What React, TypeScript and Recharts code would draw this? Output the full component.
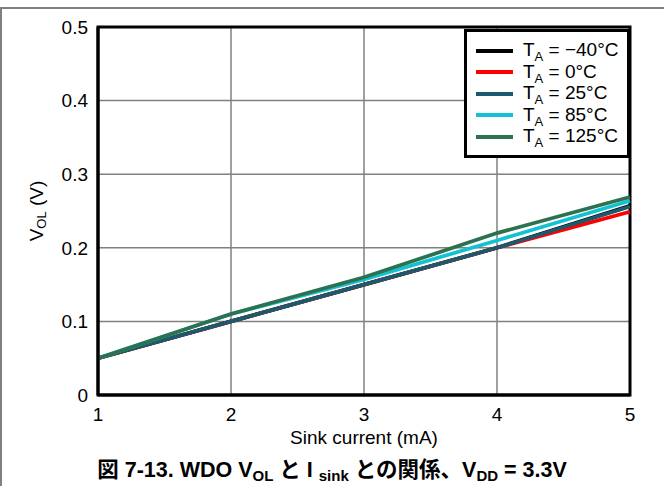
import React from 'react';
import {
  LineChart,
  Line,
  XAxis,
  YAxis,
  CartesianGrid,
  ReferenceArea,
} from 'recharts';

// sink current (mA) and VOL (V) for each temperature
const sinkCurrent = [1, 2, 3, 4, 5];
const volMinus40 = [0.05, 0.1, 0.15, 0.2, 0.257];
const vol0 = [0.05, 0.1, 0.15, 0.2, 0.249];
const vol25 = [0.05, 0.1, 0.15, 0.2, 0.256];
const vol85 = [0.05, 0.11, 0.157, 0.21, 0.264];
const vol125 = [0.05, 0.11, 0.16, 0.22, 0.269];

const xTicks = [1, 2, 3, 4, 5];
const yTicks = [0, 0.1, 0.2, 0.3, 0.4, 0.5];

const series = [
  { key: 'm40', label: '\u221240\u00b0C', color: '#000000', values: volMinus40 },
  { key: 't0', label: '0\u00b0C', color: '#ff0000', values: vol0 },
  { key: 't25', label: '25\u00b0C', color: '#1a5a6e', values: vol25 },
  { key: 't85', label: '85\u00b0C', color: '#12c2d2', values: vol85 },
  { key: 't125', label: '125\u00b0C', color: '#2c7150', values: vol125 },
];

const data = sinkCurrent.map((x, i) => {
  const row: Record<string, number> = { x };
  series.forEach((s) => {
    row[s.key] = s.values[i];
  });
  return row;
});

const FONT = '"Liberation Sans", Arial, "Noto Sans CJK JP", sans-serif';
const FS = 19;

const YLabel = (props: any) => {
  const vb = props.viewBox || { y: 27, height: 368 };
  const cx = 36;
  const cy = vb.y + vb.height / 2;
  return (
    <text
      x={cx}
      y={cy}
      transform={`rotate(-90 ${cx} ${cy})`}
      textAnchor="middle"
      dominantBaseline="central"
      fontFamily={FONT}
      fontSize={FS}
      fill="#000"
    >
      V
      <tspan dy={5} fontSize={13}>OL</tspan>
      <tspan dy={-5}> (V)</tspan>
    </text>
  );
};

const XLabel = () => (
  <text x={364} y={444} textAnchor="middle" fontFamily={FONT} fontSize={FS} fill="#000">
    Sink current (mA)
  </text>
);

const LegendBox = () => (
  <div
    style={{
      position: 'absolute',
      left: 464,
      top: 29,
      width: 166,
      height: 129,
      border: '3px solid #000',
      boxSizing: 'border-box',
      background: '#fff',
      paddingTop: 8,
      fontFamily: FONT,
      fontSize: FS,
      color: '#000',
    }}
  >
    {series.map((s) => (
      <div key={s.key} style={{ display: 'flex', alignItems: 'center', height: 21.5 }}>
        <div style={{ width: 37, height: 4, background: s.color, marginLeft: 9, marginRight: 10 }} />
        <span style={{ whiteSpace: 'nowrap', lineHeight: '19px' }}>
          T<span style={{ fontSize: 13, position: 'relative', top: 5 }}>A</span> = {s.label}
        </span>
      </div>
    ))}
  </div>
);

const sub = (t: string) => (
  <span style={{ fontSize: 15, position: 'relative', top: 4 }}>{t}</span>
);

export default function App() {
  return (
    <div style={{ position: 'absolute', left: 0, top: 0, width: 664, height: 486, background: '#fff' }}>
      <div style={{ position: 'absolute', left: 0, top: 7, width: 664, height: 2, background: '#808080' }} />
      <div style={{ position: 'absolute', left: 0, top: 8, width: 2, height: 478, background: '#808080' }} />
      <div style={{ position: 'absolute', left: 0, top: 0 }}>
        <LineChart width={664} height={450} data={data} margin={{ top: 27, right: 34, left: 0, bottom: 0 }}>
          <CartesianGrid stroke="#808080" strokeWidth={1.5} />
          <XAxis
            dataKey="x"
            type="number"
            domain={[1, 5]}
            ticks={xTicks}
            height={55}
            tickLine={false}
            axisLine={{ stroke: '#000', strokeWidth: 3 }}
            tickSize={0}
            tickMargin={13}
            tick={{ fill: '#000', fontSize: FS, fontFamily: FONT }}
            label={<XLabel />}
          />
          <YAxis
            type="number"
            domain={[0, 0.5]}
            ticks={yTicks}
            width={98}
            tickLine={false}
            axisLine={{ stroke: '#000', strokeWidth: 3 }}
            tickSize={0}
            tickMargin={10}
            tickFormatter={(v: number) => (v === 0 ? '0' : v.toFixed(1))}
            tick={{ fill: '#000', fontSize: FS, fontFamily: FONT }}
            label={<YLabel />}
          />
          <ReferenceArea x1={1} x2={5} y1={0} y2={0.5} fill="none" stroke="#000" strokeWidth={3} ifOverflow="visible" />
          {series.map((s) => (
            <Line
              key={s.key}
              dataKey={s.key}
              stroke={s.color}
              strokeWidth={3.75}
              dot={false}
              isAnimationActive={false}
            />
          ))}
        </LineChart>
      </div>
      <LegendBox />
      <div
        style={{
          position: 'absolute',
          left: 0,
          top: 460,
          width: 664,
          textAlign: 'center',
          fontFamily: FONT,
          fontWeight: 'bold',
          fontSize: 21.5,
          lineHeight: '21px',
          whiteSpace: 'nowrap',
          color: '#000',
        }}
      >
        図 7-13. WDO V{sub('OL')} と I {sub('sink')} との関係、V{sub('DD')} = 3.3V
      </div>
    </div>
  );
}
